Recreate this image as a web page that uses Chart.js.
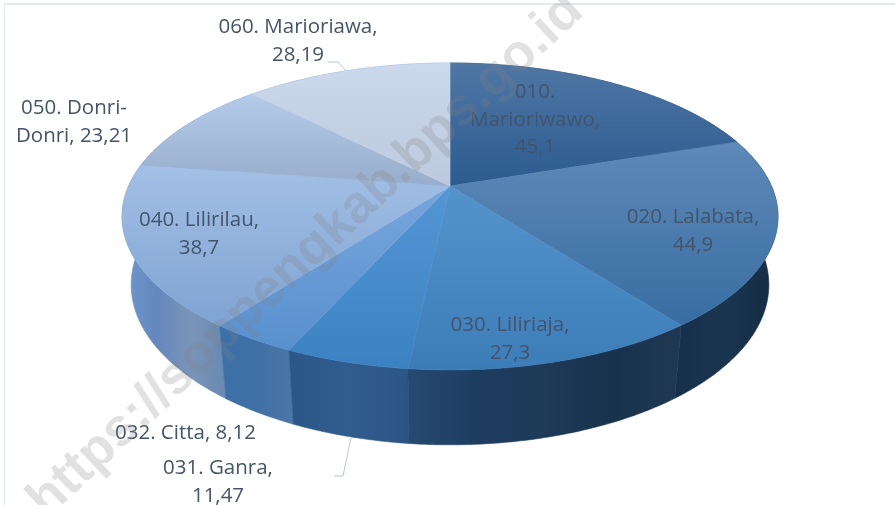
<!DOCTYPE html>
<html><head><meta charset="utf-8">
<script src="https://cdn.jsdelivr.net/npm/chart.js@4"></script>
<style>
html,body{margin:0;padding:0;background:#fff;width:895px;height:505px;overflow:hidden}
#frame{position:absolute;left:4px;top:3px;width:891px;height:502px;border-left:1px solid #dfe8f3;border-top:2px solid #e4e9ef;box-sizing:border-box}
canvas{position:absolute;left:0;top:0}
</style></head><body>
<div id="frame"></div>
<canvas id="c" width="895" height="505"></canvas>
<script>
const categories = ['010. Marioriwawo','020. Lalabata','030. Liliriaja','031. Ganra','032. Citta','040. Lilirilau','050. Donri-Donri','060. Marioriawa'];
const values = [45.1,44.9,27.3,11.47,8.12,38.7,23.21,28.19];
const labelLines = [
  ['010.','Marioriwawo,','45,1'],
  ['020. Lalabata,','44,9'],
  ['030. Liliriaja,','27,3'],
  ['031. Ganra,','11,47'],
  ['032. Citta, 8,12'],
  ['040. Lilirilau,','38,7'],
  ['050. Donri-','Donri, 23,21'],
  ['060. Marioriawa,','28,19']
];
const labelCentres = [[535,92],[693,217],[510,325],[218,468],[185.5,433],[199,220],[74,108],[298,27]];
const leaders = [[[328,62],[338,62],[346,71]],[[334,476],[343,476],[351,438]]];
const watermark = 'https://soppengkab.bps.go.id';

const faceStops = [
  ['#4f77a4','#2b5b90'],['#5e89b8','#386da2'],['#5593cc','#3c7db8'],['#5496d4','#3b82c2'],
  ['#78a6dc','#5890cf'],['#a3c0e6','#7fa3d2'],['#b3cbe9','#98adcc'],['#ccd9ec','#bcc9de']
];
const wallStops = [
  ['#1c3a5c','#1c3a5c'],
  ['#16304a','#1a3550','#142c42'],
  ['#264a72','#1d3d60','#1e3a58','#18324c','#203854'],
  ['#2b5788','#305c8e','#2c5584'],
  ['#3c70a8','#3f70a5','#4a76a8'],
  ['#6e98cf','#6488bd','#7a94b8','#6889b3'],
  ['#6e98cf','#6e98cf'],['#6e98cf','#6e98cf']
];
const drawOrder = [7,6,0,5,1,4,3,2];

// perspective disc: unit-circle point -> screen
const K = -0.1987;
const topDisc = {cx:450, cy:186, a:147.4, s:321.4};
const botDisc = {cx:450, cy:253, a:153.7, s:312.5};
function project(d, th){
  const x = Math.cos(th), y = Math.sin(th), w = 1/(1+K*y);
  return [d.cx + d.s*x*w, d.cy + d.a*y*w];
}
function rim(d, a0, a1){
  const n = Math.max(2, Math.ceil(Math.abs(a1-a0)/0.01)), pts = [];
  for(let i=0;i<=n;i++) pts.push(project(d, a0+(a1-a0)*i/n));
  return pts;
}
function trace(ctx, pts){ pts.forEach((p,i)=> i?ctx.lineTo(p[0],p[1]):ctx.moveTo(p[0],p[1])); ctx.closePath(); }

const pie3d = {
  id:'pie3d',
  beforeDatasetDraw(chart){
    const ctx = chart.ctx, arcs = chart.getDatasetMeta(0).data;
    ctx.save();
    // side walls
    drawOrder.forEach(i=>{
      const t = rim(topDisc, arcs[i].startAngle, arcs[i].endAngle);
      const b = rim(botDisc, arcs[i].endAngle, arcs[i].startAngle);
      const pts = t.concat(b);
      const xs = pts.map(p=>p[0]);
      const g = ctx.createLinearGradient(Math.min(...xs),0,Math.max(...xs),0);
      wallStops[i].forEach((c,j,l)=> g.addColorStop(j/(l.length-1), c));
      ctx.beginPath(); trace(ctx, pts);
      ctx.fillStyle = g; ctx.fill();
      ctx.strokeStyle = g; ctx.lineWidth = 0.6; ctx.stroke();
    });
    // top faces
    arcs.forEach((arc,i)=>{
      const pts = [[topDisc.cx, topDisc.cy]].concat(rim(topDisc, arc.startAngle, arc.endAngle));
      const ys = pts.map(p=>p[1]);
      const g = ctx.createLinearGradient(0,Math.min(...ys),0,Math.max(...ys));
      g.addColorStop(0, faceStops[i][0]); g.addColorStop(1, faceStops[i][1]);
      ctx.beginPath(); trace(ctx, pts);
      ctx.fillStyle = g; ctx.fill();
      ctx.strokeStyle = g; ctx.lineWidth = 0.6; ctx.stroke();
    });
    ctx.restore();
    return false;
  },
  afterDatasetsDraw(chart){
    const ctx = chart.ctx;
    ctx.save();
    ctx.strokeStyle = '#b7c4d8'; ctx.lineWidth = 1;
    leaders.forEach(l=>{ ctx.beginPath(); l.forEach((p,i)=> i?ctx.lineTo(p[0],p[1]):ctx.moveTo(p[0],p[1])); ctx.stroke(); });
    ctx.font = '400 20.5px "Open Sans"';
    ctx.fillStyle = '#44546a'; ctx.textAlign = 'center'; ctx.textBaseline = 'middle';
    labelLines.forEach((lines,i)=> lines.forEach((s,j)=> ctx.fillText(s, labelCentres[i][0], labelCentres[i][1]+j*27.7)));
    // watermark
    ctx.translate(306,256); ctx.rotate(-43.2*Math.PI/180);
    ctx.font = '700 53px "Liberation Sans"';
    ctx.fillStyle = 'rgba(128,128,128,0.24)';
    ctx.fillText(watermark, 0, 0);
    ctx.restore();
  }
};

new Chart(document.getElementById('c'), {
  type:'pie',
  data:{labels:categories, datasets:[{data:values, backgroundColor:faceStops.map(s=>s[1]), borderWidth:0}]},
  options:{responsive:false, animation:false, rotation:0, events:[],
    plugins:{legend:{display:false}, tooltip:{enabled:false}}},
  plugins:[pie3d]
});
</script>
</body></html>
